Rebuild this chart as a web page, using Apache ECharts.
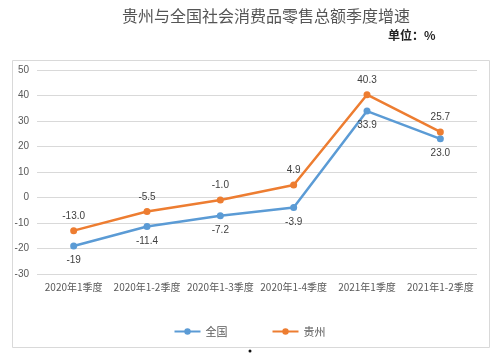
<!DOCTYPE html>
<html><head><meta charset="utf-8">
<script src="https://cdn.jsdelivr.net/npm/echarts@6/dist/echarts.min.js"></script>
<style>html,body{margin:0;padding:0;background:#fff}#c{width:499px;height:357px}</style>
</head><body><div id="c"></div>
<script>
var categories = ['2020年1季度','2020年1-2季度','2020年1-3季度','2020年1-4季度','2021年1季度','2021年1-2季度'];
var nationalValues = [-19, -11.4, -7.2, -3.9, 33.9, 23.0];
var nationalLabels = ['-19','-11.4','-7.2','-3.9','33.9','23.0'];
var guizhouValues = [-13.0, -5.5, -1.0, 4.9, 40.3, 25.7];
var guizhouLabels = ['-13.0','-5.5','-1.0','4.9','40.3','25.7'];

var chart = echarts.init(document.getElementById('c'));
chart.setOption({
  animation: false,
  title: {
    text: '贵州与全国社会消费品零售总额季度增速',
    left: 117, top: 3,
    textStyle: {fontFamily: 'Noto Sans CJK SC', fontSize: 16, fontWeight: 'normal', color: '#555'}
  },
  graphic: [
    {type: 'rect', shape: {x: 12.5, y: 60.5, width: 477, height: 287}, style: {fill: 'none', stroke: '#d9d9d9', lineWidth: 1}, z: -1},
    {type: 'text', left: 388, top: 29, style: {text: '单位：%', font: 'bold 12px "Noto Sans CJK SC"', fill: '#222'}},
    {type: 'circle', shape: {cx: 250, cy: 351, r: 1.5}, style: {fill: '#111'}}
  ],
  legend: {
    bottom: 15, left: 'center', itemGap: 44, itemWidth: 26, itemHeight: 8,
    textStyle: {color: '#595959', fontSize: 11, fontFamily: 'Noto Sans CJK SC'},
    data: ['全国','贵州']
  },
  grid: {left: 37, right: 22, top: 70, bottom: 83},
  xAxis: {
    type: 'category', data: categories,
    axisLine: {show: false}, axisTick: {show: false},
    axisLabel: {color: '#595959', fontSize: 10, fontFamily: 'Noto Sans CJK SC', interval: 0, margin: 8}
  },
  yAxis: {
    type: 'value', min: -30, max: 50, interval: 10,
    axisLine: {show: false}, axisTick: {show: false},
    axisLabel: {color: '#595959', fontSize: 10, margin: 8},
    splitLine: {lineStyle: {color: '#d9d9d9'}}
  },
  series: [
    {
      name: '全国', type: 'line', data: nationalValues,
      symbol: 'circle', symbolSize: 7,
      lineStyle: {color: '#5B9BD5', width: 2.5}, itemStyle: {color: '#5B9BD5'},
      label: {show: true, position: 'bottom', distance: 6, color: '#404040', fontSize: 10,
        formatter: function(p){ return nationalLabels[p.dataIndex]; }}
    },
    {
      name: '贵州', type: 'line', data: guizhouValues,
      symbol: 'circle', symbolSize: 7,
      lineStyle: {color: '#ED7D31', width: 2.5}, itemStyle: {color: '#ED7D31'},
      label: {show: true, position: 'top', distance: 6, color: '#404040', fontSize: 10,
        formatter: function(p){ return guizhouLabels[p.dataIndex]; }}
    }
  ]
});
</script></body></html>
